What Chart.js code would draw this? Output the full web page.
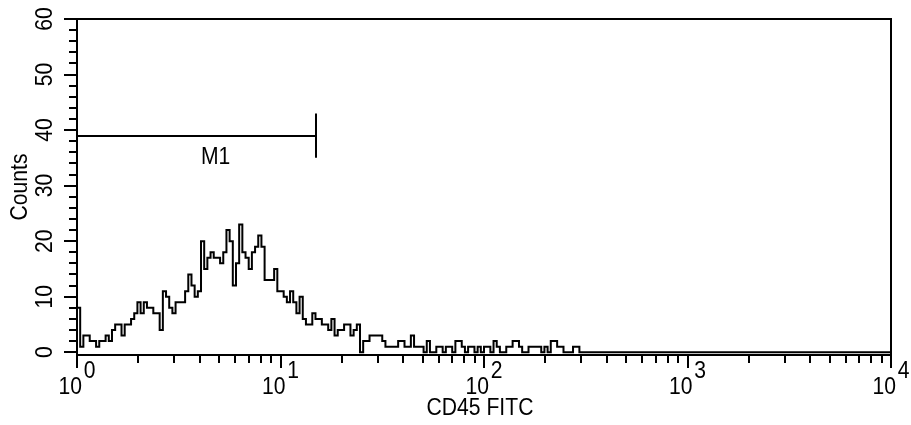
<!DOCTYPE html>
<html>
<head>
<meta charset="utf-8">
<title>CD45 FITC</title>
<script src="https://cdn.jsdelivr.net/npm/chart.js@4.4.0/dist/chart.umd.min.js"></script>
<style>
  html, body { margin: 0; padding: 0; background: #fff; }
  #wrap { position: relative; width: 911px; height: 425px; }
</style>
</head>
<body>
<div id="wrap"><canvas id="histo"></canvas></div>
<script>
// counts per channel, 256 channels over 4 log decades
const counts = [
  14, 8, 1, 3, 3, 2, 2, 1, 2, 2,
  3, 2, 4, 5, 5, 3, 5, 5, 6, 7,
  9, 7, 9, 8, 8, 7, 7, 4, 11, 10,
  8, 7, 9, 9, 9, 11, 14, 12, 10, 11,
  20, 15, 17, 18, 17, 17, 16, 18, 22, 20,
  12, 16, 23, 18, 17, 15, 18, 19, 21, 19,
  13, 13, 13, 15, 11, 11, 10, 9, 11, 9,
  7, 10, 6, 5, 5, 7, 6, 6, 5, 5,
  4, 6, 3, 4, 4, 5, 5, 3, 4, 5,
  0, 2, 2, 3, 3, 3, 3, 2, 1, 1,
  1, 1, 2, 2, 1, 1, 3, 1, 1, 1,
  0, 2, 0, 0, 1, 1, 0, 1, 1, 0,
  2, 2, 1, 0, 1, 1, 0, 1, 0, 1,
  1, 0, 2, 1, 0, 0, 1, 1, 2, 2,
  1, 0, 0, 1, 1, 1, 1, 0, 1, 0,
  2, 2, 1, 1, 0, 0, 0, 1, 1, 0,
  0, 0, 0, 0, 0, 0, 0, 0, 0, 0, 0, 0, 0, 0, 0, 0,
  0, 0, 0, 0, 0, 0, 0, 0, 0, 0, 0, 0, 0, 0, 0, 0,
  0, 0, 0, 0, 0, 0, 0, 0, 0, 0, 0, 0, 0, 0, 0, 0,
  0, 0, 0, 0, 0, 0, 0, 0, 0, 0, 0, 0, 0, 0, 0, 0,
  0, 0, 0, 0, 0, 0, 0, 0, 0, 0, 0, 0, 0, 0, 0, 0,
  0, 0, 0, 0, 0, 0, 0, 0, 0, 0, 0, 0, 0, 0, 0, 0
];
const channelsPerDecade = 64;

const yTicks = [0, 10, 20, 30, 40, 50, 60];
const xDecades = [1, 10, 100, 1000, 10000];
const xExponents = ['0', '1', '2', '3', '4'];
const xTitle = 'CD45 FITC';
const yTitle = 'Counts';

// M1 gate
const markerName = 'M1';
const markerFrom = 1;
const markerTo = 15;
const markerCount = 39;
const markerLabelAt = 4.8;

// channel -> fluorescence value on the log axis
const points = counts.map((c, i) => ({ x: Math.pow(10, i / channelsPerDecade), y: c }));
points.push({ x: 10000, y: counts[counts.length - 1] });

// narrow-ish sans text, optionally rotated
function label(ctx, str, cx, cy, rot) {
  ctx.save();
  ctx.translate(cx, cy);
  if (rot) ctx.rotate(rot);
  ctx.scale(0.88, 1);
  ctx.fillText(str, 0, 0);
  ctx.restore();
}

const frameAndAxes = {
  id: 'frameAndAxes',
  afterDraw(chart) {
    const { ctx, chartArea: a, scales: { x, y } } = chart;
    ctx.save();
    ctx.strokeStyle = '#000';
    ctx.fillStyle = '#000';
    ctx.lineWidth = 2;
    ctx.strokeRect(a.left, a.top, a.right - a.left, a.bottom - a.top);

    ctx.beginPath();
    // y ticks every 2, long at every 10
    for (let v = yTicks[0]; v <= yTicks[yTicks.length - 1]; v += 2) {
      const py = Math.round(y.getPixelForValue(v));
      const len = v % 10 === 0 ? 13 : 8;
      ctx.moveTo(a.left, py);
      ctx.lineTo(a.left - len, py);
    }
    // x ticks: decades long, 2..9 short
    xDecades.forEach((d, k) => {
      const px = Math.round(x.getPixelForValue(d));
      ctx.moveTo(px, a.bottom);
      ctx.lineTo(px, a.bottom + 13);
      if (k < xDecades.length - 1) {
        for (let m = 2; m < 10; m++) {
          const mx = Math.round(x.getPixelForValue(d * m));
          ctx.moveTo(mx, a.bottom);
          ctx.lineTo(mx, a.bottom + 8);
        }
      }
    });

    // M1 bar with end caps
    const m1 = x.getPixelForValue(markerFrom);
    const m2 = Math.round(x.getPixelForValue(markerTo));
    const my = Math.round(y.getPixelForValue(markerCount));
    const capTop = y.getPixelForValue(markerCount + 4);
    const capBot = y.getPixelForValue(markerCount - 4);
    ctx.moveTo(m1, my); ctx.lineTo(m2, my);
    ctx.moveTo(m1, capTop); ctx.lineTo(m1, capBot);
    ctx.moveTo(m2, capTop); ctx.lineTo(m2, capBot);
    ctx.stroke();

    ctx.font = '24px "Liberation Sans", Arial, sans-serif';
    ctx.textBaseline = 'middle';
    ctx.textAlign = 'center';

    label(ctx, markerName, x.getPixelForValue(markerLabelAt), my + 21);

    // y tick labels, read bottom to top
    yTicks.forEach(v => label(ctx, String(v), 45, y.getPixelForValue(v), -Math.PI / 2));
    label(ctx, yTitle, 20, (a.top + a.bottom) / 2, -Math.PI / 2);

    // x decade labels 10^n
    ctx.textAlign = 'left';
    xDecades.forEach((d, k) => {
      const px = x.getPixelForValue(d);
      const baseW = ctx.measureText('10').width * 0.88;
      const expW = ctx.measureText(xExponents[k]).width * 0.88;
      const gap = 2;
      const left = px - (baseW + gap + expW) / 2;
      label(ctx, '10', left, a.bottom + 32);
      label(ctx, xExponents[k], left + baseW + gap, a.bottom + 16);
    });

    ctx.textAlign = 'center';
    label(ctx, xTitle, (a.left + a.right) / 2 - 4, a.bottom + 53);
    ctx.restore();
  }
};

new Chart(document.getElementById('histo'), {
  type: 'line',
  data: {
    datasets: [{
      data: points,
      stepped: 'after',
      borderColor: '#000',
      borderWidth: 2,
      pointRadius: 0,
      fill: false
    }]
  },
  options: {
    responsive: true,
    maintainAspectRatio: false,
    animation: false,
    layout: { padding: { left: 77, top: 19, right: 20, bottom: 70 } },
    plugins: { legend: { display: false }, tooltip: { enabled: false } },
    scales: {
      x: { type: 'logarithmic', display: false, min: 1, max: 10000 },
      y: { type: 'linear', display: false, min: -0.5, max: 60 }
    }
  },
  plugins: [frameAndAxes]
});
</script>
</body>
</html>
